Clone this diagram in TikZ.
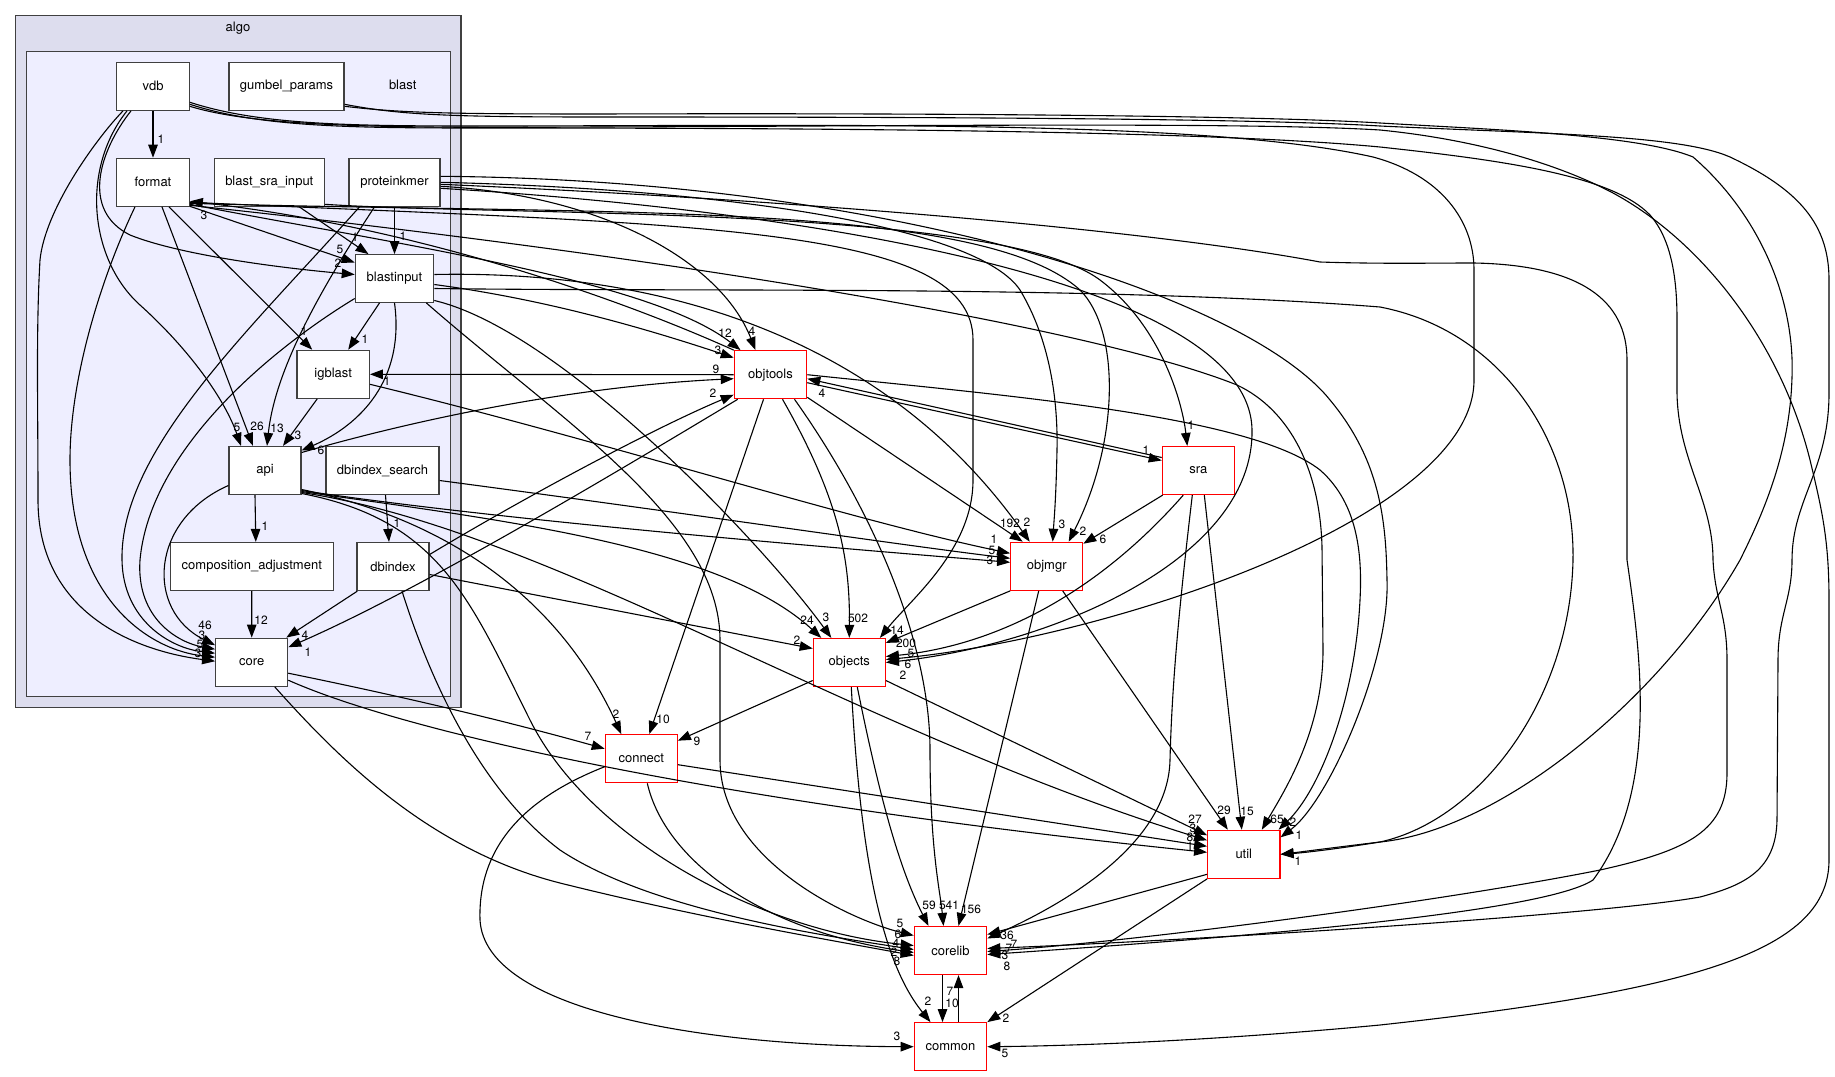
\documentclass[tikz,border=0pt]{standalone}
\usepackage{fontspec}
\setmainfont{TeX Gyre Heros}
\usetikzlibrary{arrows.meta}
\definecolor{algofill}{HTML}{DDDDEE}
\definecolor{blastfill}{HTML}{EEEEFF}
\begin{document}
\begin{tikzpicture}[x=1pt,y=-1pt,
  nd/.style={draw=black!75, line width=1.2pt, fill=white, minimum height=48pt, inner sep=0pt, font=\fontsize{13}{15}\selectfont},
  ext/.style={nd, draw=red},
  e/.style={draw=black, line width=1.1pt, -{Triangle[length=13pt,width=9.5pt]}},
  lab/.style={inner sep=0pt, font=\fontsize{12}{13}\selectfont},
  cl/.style={draw=black!75, line width=1.3pt}
]
\useasboundingbox (0,0) rectangle (1835,1076);
\fill[white] (0,0) rectangle (1835,1076);
% clusters
\draw[cl, fill=algofill] (15.7,15.7) rectangle (461,707.7);
\draw[cl, fill=blastfill] (26.7,51.7) rectangle (450.7,696.7);
\node[lab, font=\fontsize{13}{15}\selectfont] (algolbl) at (238,27.7) {algo};
\node[lab, font=\fontsize{13}{15}\selectfont] (blastlbl) at (402.7,85) {blast};
% internal nodes
\node[nd, minimum width=72.6pt] (vdb) at (153,86.3) {vdb};
\node[nd, minimum width=115pt] (gumbel) at (286.5,86.3) {gumbel\_params};
\node[nd, minimum width=72.6pt] (format) at (153,182.3) {format};
\node[nd, minimum width=110pt] (bsi) at (269.3,182.3) {blast\_sra\_input};
\node[nd, minimum width=91pt] (pkm) at (394.5,182.3) {proteinkmer};
\node[nd, minimum width=78.4pt, minimum height=47.6pt] (binput) at (394.5,278.5) {blastinput};
\node[nd, minimum width=72.3pt] (igblast) at (333.2,374.3) {igblast};
\node[nd, minimum width=72pt] (api) at (265,470.5) {api};
\node[nd, minimum width=113pt] (dbs) at (382.5,470.5) {dbindex\_search};
\node[nd, minimum width=163pt] (comp) at (251.8,566.5) {composition\_adjustment};
\node[nd, minimum width=72pt] (dbindex) at (393,566.5) {dbindex};
\node[nd, minimum width=72pt] (core) at (251.7,662.2) {core};
% external nodes
\node[ext, minimum width=72.4pt] (objtools) at (770.5,374.7) {objtools};
\node[ext, minimum width=72pt] (sra) at (1198.3,470.5) {sra};
\node[ext, minimum width=72pt] (objmgr) at (1046.7,566.3) {objmgr};
\node[ext, minimum width=72pt] (objects) at (849.3,662.5) {objects};
\node[ext, minimum width=72pt] (connect) at (641.3,758.7) {connect};
\node[ext, minimum width=72.3pt] (util) at (1243.8,854.3) {util};
\node[ext, minimum width=72.4pt] (corelib) at (950.5,950.5) {corelib};
\node[ext, minimum width=72.4pt] (common) at (950.5,1046.7) {common};

% ---------- internal edges
\draw[e] (vdb) -- (format);
\draw[e] ([xshift=-22pt]vdb.south) .. controls (100,150) and (80,210) .. (130,235) .. controls (180,255) and (280,268) .. ([yshift=4pt]binput.west);
\draw[e] ([xshift=-26pt]vdb.south) .. controls (80,170) and (90,260) .. (140,305) .. controls (190,350) and (225,400) .. ([xshift=-24pt]api.north);
\draw[e] ([xshift=-30pt]vdb.south) .. controls (95,140) and (45,210) .. (40,260) .. controls (36,330) and (38,400) .. (38,500) .. controls (38,610) and (130,650) .. ([yshift=1pt]core.west);
\draw[e] ([yshift=-24pt]format.east) -- ([yshift=16pt]binput.west);
\draw[e] ([xshift=30pt]bsi.south) -- ([xshift=-26pt]binput.north);
\draw[e] (pkm) -- (binput);
\draw[e] ([xshift=16pt]format.south) -- ([xshift=-21pt]igblast.north);
\draw[e] ([xshift=-15pt]binput.south) -- ([xshift=15pt]igblast.north);
\draw[e] ([xshift=9pt]format.south) -- ([xshift=-12pt]api.north);
\draw[e] ([xshift=-20pt]pkm.south) .. controls (320,290) and (275,370) .. ([xshift=2pt]api.north);
\draw[e] ([xshift=-16pt]igblast.south) -- ([xshift=18pt]api.north);
\draw[e] (binput.south) .. controls (405,380) and (360,425) .. ([yshift=20pt]api.east);
\draw[e] ([xshift=-18pt]format.south) .. controls (100,280) and (70,380) .. (70,460) .. controls (70,600) and (150,650) .. ([yshift=5pt]core.west);
\draw[e] ([xshift=-35pt]pkm.south) .. controls (250,330) and (120,450) .. (122,560) .. controls (123,620) and (170,648) .. ([yshift=9pt]core.west);
\draw[e] ([yshift=-20pt]binput.west) .. controls (270,350) and (150,450) .. (140,560) .. controls (136,620) and (180,643) .. ([yshift=13pt]core.west);
\draw[e] ([yshift=-15pt]api.west) .. controls (150,520) and (145,610) .. ([yshift=17pt]core.west);
\draw[e] ([xshift=-10pt]api.south) -- ([xshift=4pt]comp.north);
\draw[e] (comp) -- (core);
\draw[e] ([xshift=3pt]dbs.south) -- ([xshift=-4pt]dbindex.north);
\draw[e] ([xshift=1pt]dbindex.south west) -- ([xshift=-2pt]core.north east);

% ---------- objtools
\draw[e] (objtools.west) -- (igblast.east);
\draw[e] ([yshift=18pt]api.east) .. controls (450,410) and (600,385) .. ([yshift=-4pt]objtools.west);
\draw[e] ([yshift=12pt]dbindex.east) .. controls (520,500) and (650,430) .. ([yshift=-20pt]objtools.west);
\draw[e] ([yshift=-6pt]binput.east) .. controls (550,300) and (650,330) .. ([yshift=17pt]objtools.west);
\draw[e] ([yshift=-22pt]format.east) .. controls (400,245) and (650,280) .. ([xshift=-30pt]objtools.north);
\draw[e] ([yshift=-4pt]pkm.east) .. controls (600,195) and (720,260) .. ([xshift=-15pt]objtools.north);
\draw[e] (objtools.north west) .. controls (600,290) and (400,225) .. ([yshift=-19pt]format.east);
\draw[e] ([xshift=4pt]objtools.south west) .. controls (620,470) and (420,590) .. ([yshift=15pt]core.east);

% ---------- objmgr
\draw[e] ([yshift=-10pt]igblast.east) .. controls (600,440) and (850,520) .. ([yshift=13pt]objmgr.west);
\draw[e] ([yshift=-10pt]dbs.east) .. controls (700,515) and (900,545) .. ([yshift=8pt]objmgr.west);
\draw[e] ([yshift=-20pt]api.east) .. controls (500,520) and (800,545) .. ([yshift=4pt]objmgr.west);
\draw[e] ([yshift=2pt]objtools.south east) -- ([xshift=-24pt]objmgr.north);
\draw[e] ([yshift=4pt]binput.east) .. controls (650,270) and (880,330) .. ([xshift=-17pt]objmgr.north);
\draw[e] (pkm.east) .. controls (750,190) and (980,230) .. (1020,290) .. controls (1050,340) and (1058,400) .. (1057,450) .. controls (1056,500) and (1054,520) .. ([xshift=6pt]objmgr.north);
\draw[e] ([yshift=-21pt]format.east) .. controls (600,215) and (980,200) .. (1080,290) .. controls (1120,330) and (1120,440) .. ([xshift=22pt]objmgr.north);
\draw[e] ([xshift=1pt]sra.south west) -- ([yshift=-2pt]objmgr.north east);

% ---------- sra
\draw[e] ([yshift=-8pt]objtools.east) -- ([yshift=10pt]sra.west);
\draw[e] ([yshift=13pt]sra.west) -- ([yshift=-4pt]objtools.east);
\draw[e] ([yshift=-22pt]bsi.east) .. controls (500,216) and (1000,205) .. (1100,280) .. controls (1160,325) and (1182,400) .. ([xshift=-11pt]sra.north);

% ---------- objects
\draw[e] ([xshift=12pt]objtools.south) .. controls (840,500) and (850,560) .. (objects.north);
\draw[e] (objmgr.south west) -- ([yshift=-5pt]objects.north east);
\draw[e] ([yshift=-20pt]format.east) .. controls (700,225) and (973,225) .. (973,340) -- (973,480) .. controls (973,550) and (910,600) .. ([xshift=-6pt]objects.north east);
\draw[e] ([yshift=-21pt]api.east) .. controls (500,520) and (720,545) .. ([xshift=-28pt]objects.north);
\draw[e] ([yshift=-22pt]binput.east) .. controls (560,330) and (760,540) .. ([xshift=-18pt]objects.north);
\draw[e] ([yshift=-8pt]dbindex.east) -- ([yshift=14pt]objects.west);
\draw[e] ([xshift=-15pt]sra.south) .. controls (1100,590) and (1000,645) .. ([yshift=6pt]objects.east);
\draw[e] ([yshift=-16pt]vdb.east) .. controls (260,125) and (350,126) .. (480,126) .. controls (800,126) and (1200,118) .. (1373,157) .. controls (1440,175) and (1474,220) .. (1474,270) -- (1474,380) .. controls (1474,520) and (1100,640) .. ([yshift=3pt]objects.east);
\draw[e] ([yshift=-6pt]pkm.east) .. controls (800,210) and (1250,280) .. (1252,430) .. controls (1254,560) and (1050,645) .. (objects.east);

% ---------- util
\draw[e] ([yshift=-18pt]objects.east) -- ([yshift=19pt]util.west);
\draw[e] ([yshift=-6pt]connect.east) -- ([yshift=8pt]util.west);
\draw[e] ([yshift=-22pt]api.east) .. controls (550,530) and (850,730) .. ([yshift=14pt]util.west);
\draw[e] ([yshift=-18pt]core.east) .. controls (400,730) and (700,800) .. ([yshift=2pt]util.west);
\draw[e] ([xshift=16pt]objmgr.south) -- ([xshift=-16pt]util.north);
\draw[e] ([xshift=6pt]sra.south) -- ([xshift=-2pt]util.north);
\draw[e] ([yshift=-23pt]format.east) .. controls (700,260) and (1100,330) .. (1237,385) .. controls (1290,410) and (1320,470) .. (1322,547) -- (1323,650) .. controls (1323,730) and (1285,790) .. ([xshift=18pt]util.north);
\draw[e] (objtools.east) .. controls (1000,395) and (1250,415) .. (1320,470) .. controls (1360,505) and (1362,560) .. (1360,600) .. controls (1355,700) and (1320,790) .. ([xshift=-2pt]util.north east);
\draw[e] ([yshift=6pt]pkm.east) .. controls (900,180) and (1250,300) .. (1330,400) .. controls (1380,460) and (1386,520) .. (1387,580) .. controls (1390,660) and (1330,800) .. ([yshift=17pt]util.east);
\draw[e] ([yshift=-10pt]binput.east) .. controls (700,292) and (1100,285) .. (1380,307) .. controls (1500,330) and (1575,440) .. (1573,560) .. controls (1570,700) and (1480,820) .. (1380,842) .. controls (1330,850) and (1300,853) .. (util.east);
\draw[e] ([yshift=-20pt]gumbel.east) .. controls (400,113) and (450,114) .. (600,114) .. controls (900,113) and (1250,115) .. (1380,123) .. controls (1500,130) and (1640,135) .. (1693,157) .. controls (1760,215) and (1795,300) .. (1792,377) .. controls (1790,450) and (1765,510) .. (1740,560) .. controls (1660,700) and (1500,830) .. (1380,842) .. controls (1330,848) and (1300,852) .. (util.east);

% ---------- corelib
\draw[e] ([xshift=8pt]objects.south) .. controls (880,800) and (900,870) .. ([xshift=-22pt]corelib.north);
\draw[e] ([xshift=24pt]objtools.south) .. controls (880,520) and (930,650) .. (930,750) .. controls (930,850) and (940,890) .. ([xshift=-7pt]corelib.north);
\draw[e] ([xshift=-8pt]objmgr.south) -- ([xshift=8pt]corelib.north);
\draw[e] ([yshift=-20pt]util.west) -- ([yshift=16pt]corelib.east);
\draw[e] ([xshift=-6pt]sra.south) .. controls (1180,600) and (1172,680) .. (1170,760) .. controls (1168,850) and (1050,910) .. ([yshift=12pt]corelib.east);
\draw[e] ([yshift=-18pt]gumbel.east) .. controls (400,115) and (450,117) .. (600,117) .. controls (900,117) and (1250,118) .. (1380,126) .. controls (1550,134) and (1680,135) .. (1730,157) .. controls (1800,190) and (1829,225) .. (1829,280) -- (1829,393) .. controls (1829,470) and (1792,500) .. (1792,560) .. controls (1792,600) and (1778,615) .. (1778,660) -- (1777,820) .. controls (1776,870) and (1745,885) .. (1700,897) .. controls (1600,915) and (1200,940) .. ([yshift=2pt]corelib.east);
\draw[e] ([yshift=-18pt]vdb.east) .. controls (260,127) and (350,128) .. (480,128) .. controls (800,128) and (1200,130) .. (1380,147) .. controls (1500,160) and (1612,175) .. (1650,215) .. controls (1672,240) and (1677,280) .. (1677,320) -- (1677,393) .. controls (1678,460) and (1713,500) .. (1713,560) .. controls (1715,600) and (1727,615) .. (1727,660) -- (1727,773) .. controls (1727,830) and (1690,850) .. (1600,870) .. controls (1450,900) and (1150,940) .. ([yshift=-1pt]corelib.east);
\draw[e] ([yshift=-2pt]pkm.east) .. controls (800,200) and (1150,230) .. (1320,262) .. controls (1380,264) and (1430,263) .. (1474,263) .. controls (1580,265) and (1627,300) .. (1627,360) -- (1627,560) .. controls (1640,650) and (1660,790) .. (1593,880) .. controls (1540,915) and (1200,940) .. ([yshift=-4pt]corelib.east);
\draw[e] ([xshift=-8pt]binput.south east) .. controls (560,420) and (720,520) .. (720,640) -- (720,760) .. controls (720,860) and (850,920) .. ([yshift=15pt]corelib.west);
\draw[e] ([yshift=-23pt]api.east) .. controls (440,520) and (470,600) .. (530,720) .. controls (590,840) and (760,930) .. ([yshift=5pt]corelib.west);
\draw[e] ([xshift=9pt]dbindex.south) .. controls (430,680) and (480,790) .. (560,850) .. controls (650,910) and (820,935) .. ([yshift=1pt]corelib.west);
\draw[e] ([xshift=23pt]core.south) .. controls (340,760) and (430,850) .. (560,883) .. controls (700,918) and (830,940) .. ([yshift=-5pt]corelib.west);
\draw[e] ([xshift=6pt]connect.south) .. controls (665,860) and (760,930) .. ([yshift=-2pt]corelib.west);

% ---------- common
\draw[e] ([xshift=2pt]objects.south) .. controls (860,850) and (880,960) .. ([xshift=-20pt]common.north);
\draw[e] ([xshift=-8pt]corelib.south) -- ([xshift=-8pt]common.north);
\draw[e] ([xshift=8pt]common.north) -- ([xshift=8pt]corelib.south);
\draw[e] ([yshift=-8pt]connect.west) .. controls (520,800) and (478,850) .. (480,920) .. controls (485,1010) and (700,1046) .. (common.west);
\draw[e] (util.south west) -- (common.north east);
\draw[e] ([yshift=-20pt]vdb.east) .. controls (260,128) and (400,128) .. (600,127) .. controls (900,126) and (1250,122) .. (1380,130) .. controls (1480,140) and (1560,165) .. (1613,193) .. controls (1700,240) and (1780,340) .. (1810,460) .. controls (1822,510) and (1829,540) .. (1829,600) -- (1829,860) .. controls (1829,950) and (1700,990) .. (1380,1025) .. controls (1200,1042) and (1060,1046) .. (common.east);

% ---------- connect
\draw[e] ([yshift=-19pt]api.east) .. controls (450,520) and (560,600) .. ([xshift=-20pt]connect.north);
\draw[e] ([xshift=-7pt]objtools.south) -- ([xshift=8pt]connect.north);
\draw[e] ([yshift=-11pt]core.east) .. controls (420,700) and (520,725) .. ([yshift=10pt]connect.west);
\draw[e] ([yshift=-18pt]objects.west) -- ([yshift=18pt]connect.east);

% ---------- labels
\foreach \lt/\lx/\ly [count=\i] in {1/161/139, 2/338/263, 5/237/427, 5/340/249, 1/355/237, 1/403/236, 1/304/331, 1/365/339, 26/257/426, 13/277/428, 3/298/435, 6/321/450, 46/205/625, 3/202/635, 5/200/644, 3/198/653, 1/265/526, 12/261/620, 1/397/523, 4/305/635, 1/308/652, 1/387/381,
12/725/333, 4/752/331, 3/718/350, 9/716/369, 2/713/393, 4/822/393, 3/204/215,
1/994/539, 5/992/550, 3/990/560, 192/1010/523, 2/1027/522, 3/1062/524, 2/1083/531, 6/1103/539,
1/1146/450, 1/1191/425,
24/807/620, 3/826/617, 502/858/618, 14/897/630, 200/906/643, 2/797/640, 5/911/653, 6/908/664, 2/903/675,
27/1195/819, 3/1193/828, 8/1190/837, 1/1190/846, 29/1224/810, 15/1247/811, 65/1277/819, 2/1293/822, 1/1299/835, 1/1298/861,
2/616/714, 10/663/719, 7/588/736, 9/697/741,
59/929/905, 541/949/905, 156/971/909, 5/900/923, 6/898/934, 4/896/943, 2/894/952, 8/897/961, 36/1007/935, 7/1014/944, 7/1009/948, 3/1005/955, 8/1007/966,
2/928/1001, 10/952/1003, 7/950/991, 3/897/1036, 2/1006/1018, 5/1005/1053}
  \node[lab] (lb\i) at (\lx,\ly) {\lt};
\end{tikzpicture}
\end{document}
